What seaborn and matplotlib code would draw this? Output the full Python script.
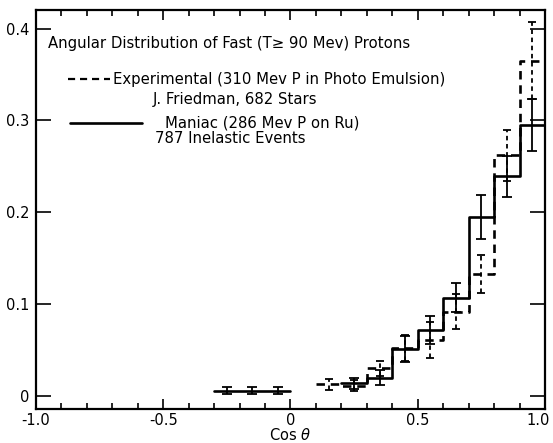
import numpy as np
import pandas as pd
import matplotlib
matplotlib.use("Agg")
import matplotlib.pyplot as plt
import matplotlib.transforms as mtransforms
from matplotlib.lines import Line2D
import seaborn as sns

BIN = 0.1

# Maniac calculation (286 Mev P on Ru): lower bin edges, heights, errors
maniac_lo = [-0.3, -0.2, -0.1, 0.2, 0.3, 0.4, 0.5, 0.6, 0.7, 0.8, 0.9]
maniac_val = [0.006, 0.006, 0.006, 0.014, 0.020, 0.051, 0.072, 0.107, 0.195, 0.239, 0.295]
maniac_err = [0.004, 0.004, 0.004, 0.006, 0.008, 0.014, 0.015, 0.016, 0.024, 0.022, 0.028]

# Experimental (310 Mev P in photo emulsion, J. Friedman)
exper_lo = [0.1, 0.2, 0.3, 0.4, 0.5, 0.6, 0.7, 0.8, 0.9]
exper_val = [0.013, 0.011, 0.030, 0.052, 0.061, 0.092, 0.133, 0.262, 0.365]
exper_err = [0.006, 0.006, 0.008, 0.014, 0.020, 0.019, 0.021, 0.028, 0.042]

x_ticks = [-1.0, -0.5, 0.0, 0.5, 1.0]
x_ticklabels = ["-1.0", "-0.5", "0", "0.5", "1.0"]
y_ticks = [0.0, 0.1, 0.2, 0.3, 0.4]
y_ticklabels = ["0", "0.1", "0.2", "0.3", "0.4"]


def step_rows(name, lo, val):
    """Turn histogram bins into step-line vertices, split at gaps."""
    rows = []
    seg = 0
    for i, (l, v) in enumerate(zip(lo, val)):
        if i > 0 and not np.isclose(l, lo[i - 1] + BIN):
            rows.append((name, f"{name}{seg}", lo[i - 1] + BIN, val[i - 1]))
            seg += 1
        rows.append((name, f"{name}{seg}", l, v))
    rows.append((name, f"{name}{seg}", lo[-1] + BIN, val[-1]))
    return rows


df = pd.DataFrame(
    step_rows("Maniac", maniac_lo, maniac_val) + step_rows("Experimental", exper_lo, exper_val),
    columns=["series", "segment", "cos", "frac"],
)

sns.set_style("ticks")
plt.rcParams["font.family"] = ["DejaVu Sans"]
plt.rcParams.update({"text.color": "black", "axes.labelcolor": "black",
                     "xtick.color": "black", "ytick.color": "black"})

fig = plt.figure(figsize=(5.53, 4.43), dpi=100)
ax = fig.add_axes([0.065, 0.077, 0.9205, 0.9])

sns.lineplot(
    data=df, x="cos", y="frac", style="series", units="segment", estimator=None,
    sort=False, color="black", lw=1.9, drawstyle="steps-post", legend=False,
    dashes={"Maniac": "", "Experimental": (3.2, 2.2)}, ax=ax,
)

mc = np.array(maniac_lo) + BIN / 2
ec = np.array(exper_lo) + BIN / 2
ax.errorbar(mc, maniac_val, yerr=maniac_err, fmt="none", ecolor="black",
            elinewidth=1.3, capsize=3.5, capthick=1.3)
eb = ax.errorbar(ec, exper_val, yerr=exper_err, fmt="none", ecolor="black",
                 elinewidth=1.3, capsize=3.0, capthick=1.3)
eb[2][0].set_linestyle((0, (2.5, 2.0)))

ax.set_xlim(-1.0, 1.0)
ax.set_ylim(-0.014, 0.42)
ax.set_xticks(x_ticks)
ax.set_xticklabels(x_ticklabels)
ax.set_xticks(np.arange(-1.0, 1.001, 0.1), minor=True)
ax.set_yticks(y_ticks)
ax.set_yticklabels(y_ticklabels)
ax.tick_params(axis="x", which="major", direction="in", length=7, width=1.2,
               top=True, labelsize=10.5, pad=3)
ax.tick_params(axis="x", which="minor", direction="in", length=4.5, width=1.2, top=True)
ax.tick_params(axis="y", which="major", direction="in", length=11, width=1.2,
               right=True, labelsize=10.5, pad=5)
for s in ax.spines.values():
    s.set_linewidth(1.6)
    s.set_color("black")

# keep the rightmost tick label inside the figure
last = ax.get_xticklabels()[-1]
last.set_transform(last.get_transform() +
                   mtransforms.ScaledTranslation(-5 / 72, 0, fig.dpi_scale_trans))

ax.set_xlabel("Cos $\\theta$", fontsize=10.5, labelpad=-1)
ax.set_ylabel("")

tk = dict(transform=ax.transAxes, fontsize=10.7, va="center", ha="left", color="black")
ax.text(0.0236, 0.917, "Angular Distribution of Fast (T\u2265 90 Mev) Protons", **tk)
ax.add_line(Line2D([0.063, 0.145], [0.827, 0.827], transform=ax.transAxes,
                   color="black", lw=1.6, ls=(0, (3.2, 2.2))))
ax.text(0.151, 0.827, "Experimental (310 Mev P in Photo Emulsion)", **tk)
ax.text(0.230, 0.777, "J. Friedman, 682 Stars", **tk)
ax.add_line(Line2D([0.067, 0.208], [0.7175, 0.7175], transform=ax.transAxes,
                   color="black", lw=1.9))
ax.text(0.253, 0.7175, "Maniac (286 Mev P on Ru)", **tk)
ax.text(0.234, 0.677, "787 Inelastic Events", **tk)

fig.savefig("out.png", dpi=100)
